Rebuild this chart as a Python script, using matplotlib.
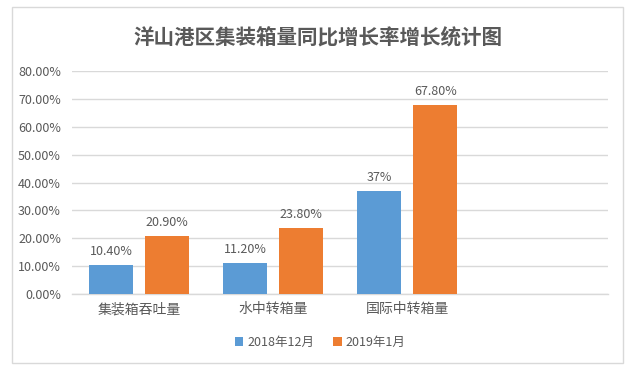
import numpy as np
import matplotlib
matplotlib.use('Agg')
import matplotlib.pyplot as plt
from matplotlib.patches import FancyBboxPatch

plt.rcParams['font.family'] = ['Noto Sans CJK SC', 'DejaVu Sans']

# data
categories = ['集装箱吞吐量', '水中转箱量', '国际中转箱量']
series_names = ['2018年12月', '2019年1月']
v2018_12 = [10.40, 11.20, 37.0]
v2019_01 = [20.90, 23.80, 67.80]
labels_2018_12 = ['10.40%', '11.20%', '37%']
labels_2019_01 = ['20.90%', '23.80%', '67.80%']
yticks = [0, 10, 20, 30, 40, 50, 60, 70, 80]

blue = '#5B9BD5'
orange = '#ED7D31'
grey_text = '#595959'
grid_col = '#D9D9D9'

fig = plt.figure(figsize=(6.36, 3.72), dpi=100)

# outer chart frame
frame = FancyBboxPatch((12 / 636, 1 - 363 / 372), (623 - 12) / 636, (363 - 7) / 372,
                       boxstyle='square,pad=0', transform=fig.transFigure,
                       facecolor='white', edgecolor='#D9D9D9', linewidth=1.0, zorder=-5)
fig.patches.append(frame)

ax = fig.add_axes([72 / 636, 1 - 294 / 372, (608 - 72) / 636, (294 - 71) / 372])
ax.set_facecolor('none')
ax.set_zorder(2)

x = np.arange(len(categories))
w = 0.33
off = 0.21
b1 = ax.bar(x - off, v2018_12, width=w, color=blue, label=series_names[0], zorder=3)
b2 = ax.bar(x + off, v2019_01, width=w, color=orange, label=series_names[1], zorder=3)

for bars, labs in ((b1, labels_2018_12), (b2, labels_2019_01)):
    for rect, lab in zip(bars, labs):
        ax.annotate(lab, (rect.get_x() + rect.get_width() / 2, rect.get_height()),
                    xytext=(0, 5), textcoords='offset points', ha='center', va='bottom',
                    fontsize=9, color=grey_text)

ax.set_xlim(-0.5, 3.5)
ax.set_ylim(0, 80)
ax.set_yticks(yticks)
ax.set_yticklabels([f'{t:.2f}%' for t in yticks], fontsize=9, color=grey_text)
ax.set_xticks(x)
ax.set_xticklabels(categories, fontsize=10, color=grey_text)
ax.tick_params(axis='both', length=0)
ax.tick_params(axis='y', pad=8)
ax.tick_params(axis='x', pad=6)
ax.grid(axis='y', color=grid_col, linewidth=1.0, zorder=0)
for s in ('top', 'right', 'left'):
    ax.spines[s].set_visible(False)
ax.spines['bottom'].set_color(grid_col)
ax.spines['bottom'].set_linewidth(1.0)
ax.spines['bottom'].set_zorder(1)

fig.text(318 / 636, 1 - 38 / 372, '洋山港区集装箱量同比增长率增长统计图', ha='center', va='center',
         fontsize=14.8, fontweight='bold', color=grey_text)

fig.legend(handles=[b1, b2], labels=series_names, loc='center', bbox_to_anchor=(320 / 636, 1 - 342 / 372),
           ncol=2, frameon=False, fontsize=9, handlelength=0.7, handleheight=0.7,
           handletextpad=0.3, columnspacing=1.5, labelcolor=grey_text)

fig.savefig('out.png', dpi=100)
